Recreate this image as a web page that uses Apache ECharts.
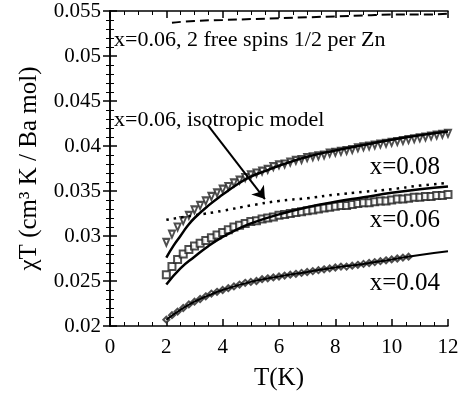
<!DOCTYPE html>
<html>
<head>
<meta charset="utf-8">
<script src="https://cdn.jsdelivr.net/npm/echarts@6/dist/echarts.min.js"></script>
<style>
  html, body { margin: 0; padding: 0; background: #fff; }
  #chart { width: 467px; height: 403px; }
</style>
</head>
<body>
<div id="chart"></div>
<script>
// measured temperatures (K)
const tData = [2.0, 2.2, 2.4, 2.6, 2.8, 3.0, 3.2, 3.4, 3.6, 3.8, 4.0, 4.2, 4.4,
  4.6, 4.8, 5.0, 5.2, 5.4, 5.6, 5.8, 6.0, 6.2, 6.4, 6.6, 6.8, 7.0, 7.2, 7.4, 7.6, 7.8,
  8.0, 8.2, 8.4, 8.6, 8.8, 9.0, 9.2, 9.4, 9.6, 9.8, 10.0, 10.2, 10.4, 10.6, 10.8,
  11.0, 11.2, 11.4, 11.6, 11.8, 12.0];

// chi*T data, x = 0.08 (down triangles)
const chiT08 = [0.0293, 0.0302, 0.0310, 0.0317, 0.0323, 0.0329, 0.0334, 0.0339, 0.0344, 0.0348, 0.0352, 0.0355, 0.0359,
  0.0362, 0.0365, 0.0368, 0.0370, 0.0372, 0.0374, 0.0377, 0.0379, 0.0380, 0.0382, 0.0384, 0.0385, 0.0387, 0.0388, 0.0389, 0.0390, 0.0392,
  0.0393, 0.0394, 0.0395, 0.0396, 0.0398, 0.0399, 0.0400, 0.0401, 0.0402, 0.0403, 0.0404, 0.0405, 0.0406, 0.0407, 0.0408,
  0.0409, 0.0410, 0.0411, 0.0412, 0.0413, 0.0414];

// x = 0.06 (squares)
const chiT06 = [0.0257, 0.0266, 0.0274, 0.0280, 0.0285, 0.0289, 0.0292, 0.0295, 0.0298, 0.0301, 0.0304, 0.0307, 0.0310,
  0.0312, 0.0314, 0.0316, 0.0317, 0.0319, 0.0320, 0.0321, 0.0323, 0.0324, 0.0325, 0.0326, 0.0327, 0.0328, 0.0329, 0.0330, 0.0331, 0.0332,
  0.0333, 0.0334, 0.0334, 0.0335, 0.0336, 0.0337, 0.0337, 0.0338, 0.0339, 0.0339, 0.0340, 0.0341, 0.0341, 0.0342, 0.0343,
  0.0343, 0.0344, 0.0344, 0.0345, 0.0345, 0.0346];

// x = 0.04 (diamonds), measured up to 10.6 K
const chiT04 = [0.0207, 0.0212, 0.0216, 0.0220, 0.0224, 0.0227, 0.0230, 0.0233, 0.0236, 0.0238, 0.0240, 0.0242, 0.0244,
  0.0246, 0.0248, 0.0249, 0.0250, 0.0252, 0.0253, 0.0254, 0.0255, 0.0256, 0.0257, 0.0258, 0.0259, 0.0260, 0.0261, 0.0262, 0.0263, 0.0264,
  0.0265, 0.0266, 0.0266, 0.0267, 0.0268, 0.0269, 0.0270, 0.0271, 0.0272, 0.0273, 0.0274, 0.0275, 0.0276, 0.0277];

// model curves
const tFit08 = [2, 2.25, 2.5, 2.75, 3, 3.5, 4, 4.5, 5, 5.5, 6, 7, 8, 9, 10, 11, 12];
const fit08 = [0.0276, 0.0289, 0.0300, 0.0311, 0.0320, 0.0334, 0.0346, 0.0357, 0.0366, 0.0372, 0.0378, 0.0388, 0.0395, 0.0401, 0.0407, 0.0412, 0.0416];

const tFit06 = [2, 2.5, 3, 3.5, 4, 4.5, 5, 6, 7, 8, 9, 10, 11, 12];
const fit06 = [0.0246, 0.0264, 0.0277, 0.0289, 0.0299, 0.0307, 0.0314, 0.0324, 0.0332, 0.0338, 0.0343, 0.0348, 0.0352, 0.0355];

const tFit04 = [2, 2.5, 3, 3.5, 4, 5, 6, 7, 8, 9, 10, 11, 12];
const fit04 = [0.0207, 0.0218, 0.0227, 0.0234, 0.0240, 0.0249, 0.0255, 0.0260, 0.0265, 0.0269, 0.0274, 0.0279, 0.0283];

const tIso = [2, 3, 4, 5, 6, 7, 8, 9, 10, 11, 12];
const isoModel = [0.0318, 0.0323, 0.0328, 0.0334, 0.0339, 0.0342, 0.0346, 0.0349, 0.0352, 0.0356, 0.0359];

const tFree = [2.2, 3, 4, 5, 6, 7, 8, 9, 10, 11, 12];
const freeSpins = [0.0537, 0.0539, 0.0540, 0.0541, 0.0542, 0.0543, 0.0544, 0.0545, 0.0546, 0.0546, 0.0547];

// arrow from the "isotropic model" label to the dotted curve
const arrowFrom = [3.48, 0.0423];
const arrowTo = [5.5, 0.0341];

const pairs = (xs, ys) => ys.map((y, i) => [xs[i], y]);

const FONT = 'Liberation Serif';
const chart = echarts.init(document.getElementById('chart'));

const axisCommon = {
  axisLine: { lineStyle: { color: '#000', width: 1.5 } },
  axisTick: { inside: true, length: 7, lineStyle: { color: '#000', width: 1.5 } },
  minorTick: { show: true, length: 4, lineStyle: { color: '#000', width: 1 } },
  splitLine: { show: false },
};

const option = {
  animation: false,
  grid: { left: 110, right: 19, top: 11, bottom: 77 },
  xAxis: [
    {
      ...axisCommon,
      type: 'value', min: 0, max: 12, interval: 2,
      minorTick: { ...axisCommon.minorTick, splitNumber: 4 },
      axisLabel: { color: '#000', fontFamily: FONT, fontSize: 21, margin: 11 },
      name: 'T(K)', nameLocation: 'middle', nameGap: 40,
      nameTextStyle: { color: '#000', fontFamily: FONT, fontSize: 25 },
    },
    {
      ...axisCommon,
      type: 'value', min: 0, max: 12, interval: 2, position: 'top',
      minorTick: { ...axisCommon.minorTick, splitNumber: 4 },
      axisLabel: { show: false },
    },
  ],
  yAxis: [
    {
      ...axisCommon,
      type: 'value', min: 0.02, max: 0.055, interval: 0.005,
      minorTick: { ...axisCommon.minorTick, splitNumber: 5 },
      axisLabel: { color: '#000', fontFamily: FONT, fontSize: 21, margin: 9 },
      name: 'χT (cm³ K / Ba mol)', nameLocation: 'middle', nameGap: 68,
      nameTextStyle: { color: '#000', fontFamily: FONT, fontSize: 25 },
    },
    {
      ...axisCommon,
      type: 'value', min: 0.02, max: 0.055, interval: 0.005, position: 'right',
      minorTick: { ...axisCommon.minorTick, splitNumber: 5 },
      axisLabel: { show: false },
    },
  ],
  graphic: [
    { type: 'text', left: 114, top: 29, style: { text: 'x=0.06, 2 free spins 1/2 per Zn', font: '22px "Liberation Serif"', fill: '#000' } },
    { type: 'text', left: 114, top: 109, style: { text: 'x=0.06, isotropic model', font: '22px "Liberation Serif"', fill: '#000' } },
    { type: 'text', right: 27, top: 155, style: { text: 'x=0.08', font: '25px "Liberation Serif"', fill: '#000' } },
    { type: 'text', right: 27, top: 208, style: { text: 'x=0.06', font: '25px "Liberation Serif"', fill: '#000' } },
    { type: 'text', right: 27, top: 271, style: { text: 'x=0.04', font: '25px "Liberation Serif"', fill: '#000' } },
  ],
  series: [
    {
      name: 'x=0.08', type: 'scatter', data: pairs(tData, chiT08),
      symbol: 'emptyTriangle', symbolRotate: 180, symbolSize: [6, 7],
      itemStyle: { color: '#222', borderWidth: 1 }, z: 2,
    },
    {
      name: 'x=0.06', type: 'scatter', data: pairs(tData, chiT06),
      symbol: 'emptyRect', symbolSize: 7,
      itemStyle: { color: '#222', borderWidth: 1 }, z: 2,
    },
    {
      name: 'x=0.04', type: 'scatter', data: pairs(tData, chiT04),
      symbol: 'emptyDiamond', symbolSize: 6,
      itemStyle: { color: '#222', borderWidth: 1 }, z: 2,
    },
    {
      name: 'fit 0.08', type: 'line', data: pairs(tFit08, fit08), smooth: true,
      showSymbol: false, lineStyle: { color: '#000', width: 2.5 }, z: 3,
    },
    {
      name: 'fit 0.06', type: 'line', data: pairs(tFit06, fit06), smooth: true,
      showSymbol: false, lineStyle: { color: '#000', width: 2.5 }, z: 3,
    },
    {
      name: 'fit 0.04', type: 'line', data: pairs(tFit04, fit04), smooth: true,
      showSymbol: false, lineStyle: { color: '#000', width: 2 }, z: 3,
    },
    {
      name: 'isotropic model', type: 'line', data: pairs(tIso, isoModel), smooth: true,
      showSymbol: false, lineStyle: { color: '#000', width: 2.5, type: [2.5, 5] }, z: 3,
      markLine: {
        silent: true, symbol: ['none', 'arrow'], symbolSize: 12,
        label: { show: false },
        lineStyle: { color: '#000', width: 2, type: 'solid' },
        data: [[{ coord: arrowFrom }, { coord: arrowTo }]],
      },
    },
    {
      name: 'free spins', type: 'line', data: pairs(tFree, freeSpins), smooth: true,
      showSymbol: false, lineStyle: { color: '#000', width: 2, type: [9, 5] }, z: 3,
    },
  ],
};

chart.setOption(option);
</script>
</body>
</html>
